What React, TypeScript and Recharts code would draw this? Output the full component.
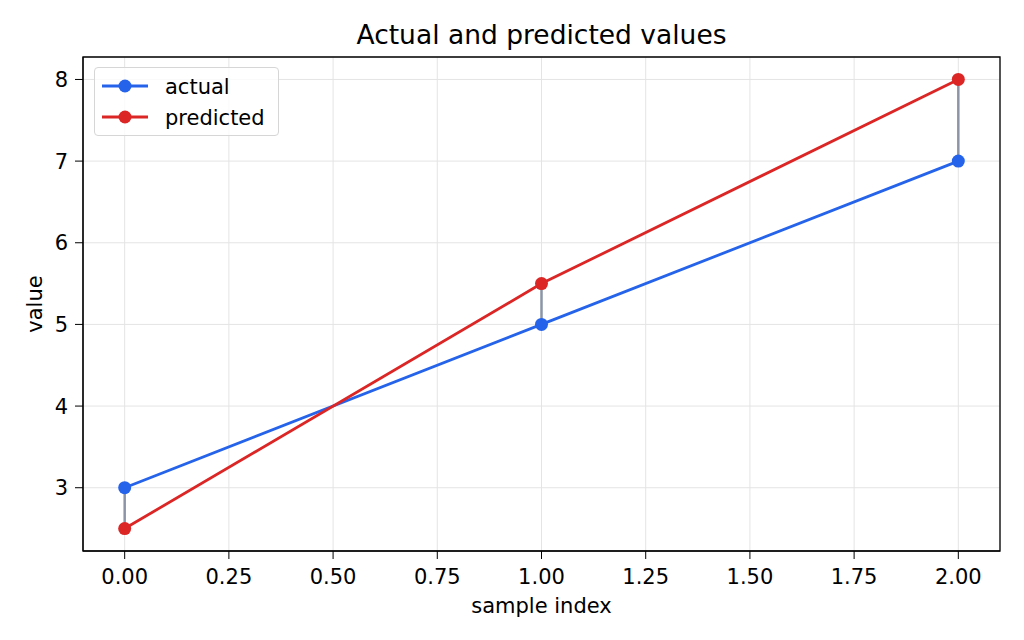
import React from 'react';
import {
    LineChart,
    Line,
    XAxis,
    YAxis,
    CartesianGrid,
    ReferenceLine,
    ReferenceArea,
    Legend,
} from 'recharts';

// values
const sampleIndex = [0, 1, 2];
const actualValues = [3, 5, 7];
const predictedValues = [2.5, 5.5, 8];
const xTicks = [0, 0.25, 0.5, 0.75, 1, 1.25, 1.5, 1.75, 2];
const yTicks = [3, 4, 5, 6, 7, 8];
const xDomain = [-0.1, 2.1];
const yDomain = [2.225, 8.275];

const ACTUAL_COLOR = '#2563eb';
const PREDICTED_COLOR = '#dc2626';
const RESIDUAL_COLOR = '#8b95a6';
const FONT = '"DejaVu Sans", sans-serif';

const data = sampleIndex.map((x, i) => ({
    x,
    actual: actualValues[i],
    predicted: predictedValues[i],
}));

const series = [
    { key: 'actual', color: ACTUAL_COLOR },
    { key: 'predicted', color: PREDICTED_COLOR },
];

const LegendBox = () => (
    <div
        style={{
            width: 183,
            height: 67,
            border: '1px solid #d6d6d6',
            borderRadius: 4,
            background: 'rgba(255,255,255,0.8)',
            fontFamily: FONT,
        }}
    >
        <svg width={183} height={67}>
            {series.map((s, i) => (
                <g key={s.key} transform={`translate(0, ${18 + i * 31})`}>
                    <line x1={7} x2={53} y1={0} y2={0} stroke={s.color} strokeWidth={2.8} />
                    <circle cx={30} cy={0} r={6.5} fill={s.color} />
                    <text x={70} y={0} dy="0.36em" fontSize={21} fill="#000">
                        {s.key}
                    </text>
                </g>
            ))}
        </svg>
    </div>
);

const YLabel = ({ viewBox }: any) => {
    const cx = viewBox.x + 35;
    const cy = viewBox.y + viewBox.height / 2;
    return (
        <text
            x={cx}
            y={cy}
            transform={`rotate(-90, ${cx}, ${cy})`}
            textAnchor="middle"
            dominantBaseline="central"
            fontSize={21}
            fill="#000"
        >
            value
        </text>
    );
};

const App: React.FC = () => {
    return (
        <div
            style={{
                position: 'absolute',
                left: 0,
                top: 0,
                width: 1024,
                height: 640,
                background: '#fff',
                fontFamily: FONT,
            }}
        >
            <div
                style={{
                    position: 'absolute',
                    left: 83,
                    width: 917,
                    top: 22,
                    lineHeight: '26px',
                    fontSize: 26.5,
                    textAlign: 'center',
                    color: '#000',
                }}
            >
                Actual and predicted values
            </div>
            <LineChart
                width={1024}
                height={640}
                data={data}
                margin={{ top: 57, right: 24, bottom: 0, left: 0 }}
            >
                <CartesianGrid stroke="#e4e4e4" strokeWidth={1} />
                <XAxis
                    type="number"
                    dataKey="x"
                    domain={xDomain}
                    allowDataOverflow
                    ticks={xTicks}
                    tickFormatter={(v: number) => v.toFixed(2)}
                    height={89}
                    tickSize={8}
                    tickMargin={10}
                    stroke="#000"
                    tick={{ fill: '#000', fontSize: 21 }}
                    label={{ value: 'sample index', position: 'insideBottom', offset: 27, fill: '#000', fontSize: 21 }}
                />
                <YAxis
                    type="number"
                    domain={yDomain}
                    allowDataOverflow
                    ticks={yTicks}
                    width={83}
                    tickSize={8}
                    tickMargin={7}
                    stroke="#000"
                    tick={{ fill: '#000', fontSize: 21 }}
                    label={<YLabel />}
                />
                <ReferenceArea
                    x1={xDomain[0]}
                    x2={xDomain[1]}
                    y1={yDomain[0]}
                    y2={yDomain[1]}
                    fill="none"
                    stroke="#000"
                    strokeWidth={1.3}
                />
                {series.map((s) => (
                    <Line
                        key={s.key}
                        type="linear"
                        dataKey={s.key}
                        stroke={s.color}
                        strokeWidth={2.8}
                        dot={{ r: 6.5, fill: s.color, stroke: s.color, strokeWidth: 0 }}
                        activeDot={false}
                        isAnimationActive={false}
                    />
                ))}
                {sampleIndex.map((x, i) => (
                    <ReferenceLine
                        key={`res-${x}`}
                        segment={[
                            { x, y: actualValues[i] },
                            { x, y: predictedValues[i] },
                        ]}
                        stroke={RESIDUAL_COLOR}
                        strokeWidth={2.5}
                    />
                ))}
                <Legend
                    layout="vertical"
                    align="center"
                    verticalAlign="middle"
                    wrapperStyle={{ left: 94, top: 67, width: 185, height: 69 }}
                    content={() => <LegendBox />}
                />
            </LineChart>
        </div>
    );
};

export default App;
